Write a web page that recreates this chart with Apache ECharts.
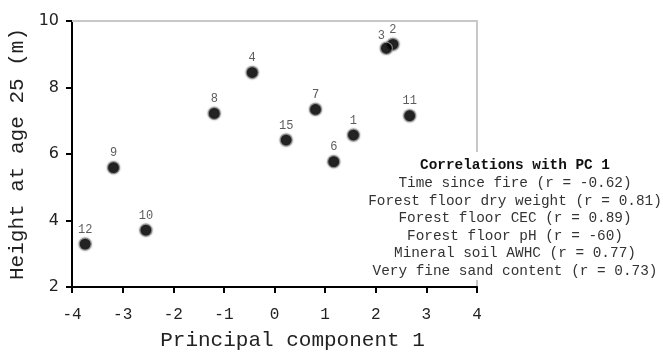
<!DOCTYPE html>
<html><head><meta charset="utf-8">
<script src="https://cdn.jsdelivr.net/npm/echarts@6/dist/echarts.min.js"></script>
<style>html,body{margin:0;padding:0;background:#fff}#c{width:663px;height:352px}</style>
</head><body><div id="c"></div>
<script>
const plotIds = ['1','2','3','4','6','7','8','9','10','11','12','15'];
const pc1Values = [1.56, 2.34, 2.21, -0.44, 1.17, 0.81, -1.19, -3.18, -2.54, 2.67, -3.74, 0.23];
const heightValues = [6.57, 9.30, 9.18, 8.45, 5.77, 7.34, 7.22, 5.59, 3.71, 7.15, 3.29, 6.42];
const xTicks = [-4, -3, -2, -1, 0, 1, 2, 3, 4];
const yTicks = [2, 4, 6, 8, 10];
const corrTitle = 'Correlations with PC 1';
const corrLines = [
  'Time since fire (r = -0.62)',
  'Forest floor dry weight (r = 0.81)',
  'Forest floor CEC (r = 0.89)',
  'Forest floor pH (r = -60)',
  'Mineral soil AWHC (r = 0.77)',
  'Very fine sand content (r = 0.73)'
];

const mono = '"Liberation Mono", "Courier New", monospace';
const chart = echarts.init(document.getElementById('c'), null, {renderer: 'canvas'});

const data = plotIds.map((id, i) => {
  const d = {value: [pc1Values[i], heightValues[i]], name: id};
  if (id === '3') d.label = {offset: [-5, 2]};
  return d;
});

chart.setOption({
  backgroundColor: '#fff',
  animation: false,
  grid: {left: 72, right: 186, top: 21, bottom: 65, containLabel: false, outerBoundsMode: 'none'},
  xAxis: [{
    type: 'value', min: xTicks[0], max: xTicks[xTicks.length - 1], interval: 1,
    axisLine: {show: true, onZero: false, lineStyle: {color: '#000', width: 2}},
    axisTick: {show: true, length: 6, lineStyle: {color: '#000', width: 2}},
    axisLabel: {color: '#222', fontFamily: mono, fontSize: 16, margin: 20},
    splitLine: {show: false},
    name: 'Principal component 1', nameLocation: 'middle', nameGap: 43,
    nameTextStyle: {fontFamily: mono, fontSize: 21, color: '#222', padding: [0, 0, 0, 36]}
  }, {
    type: 'value', position: 'top', min: -4, max: 4,
    axisLine: {show: true, onZero: false, lineStyle: {color: '#c8c8c8', width: 2}},
    axisTick: {show: false}, axisLabel: {show: false}, splitLine: {show: false}
  }],
  yAxis: [{
    type: 'value', min: yTicks[0], max: yTicks[yTicks.length - 1], interval: 2,
    axisLine: {show: true, onZero: false, lineStyle: {color: '#000', width: 2}},
    axisTick: {show: true, length: 6, lineStyle: {color: '#000', width: 2}},
    axisLabel: {color: '#222', fontFamily: '"DejaVu Sans", sans-serif', fontSize: 16, margin: 13},
    splitLine: {show: false},
    name: 'Height at age 25 (m)', nameLocation: 'middle', nameGap: 33, nameRotate: 90,
    nameTextStyle: {fontFamily: mono, fontSize: 21, color: '#222'}
  }, {
    type: 'value', position: 'right', min: 2, max: 10,
    axisLine: {show: true, onZero: false, lineStyle: {color: '#c8c8c8', width: 2}},
    axisTick: {show: false}, axisLabel: {show: false}, splitLine: {show: false}
  }],
  series: [{
    type: 'scatter', xAxisIndex: 0, yAxisIndex: 0,
    symbol: 'circle', symbolSize: 12,
    itemStyle: {color: '#000', borderColor: '#999', borderWidth: 1.2, shadowBlur: 2, shadowColor: 'rgba(0,0,0,0.4)'},
    label: {show: true, position: 'top', distance: 2, formatter: p => p.name,
      fontFamily: mono, fontSize: 12, color: '#333'},
    data: data
  }],
  graphic: [
    {type: 'rect', z: 100, shape: {x: 362, y: 152, width: 300, height: 128}, style: {fill: '#fff'}},
    {type: 'text', z: 101, x: 515, y: 157,
      style: {
        text: '{t|' + corrTitle + '}\n' + corrLines.join('\n'),
        align: 'center', verticalAlign: 'top',
        fontFamily: mono, fontSize: 14.4, lineHeight: 17.5, fill: '#333',
        rich: {t: {fontFamily: mono, fontSize: 14.4, fontWeight: 'bold', fill: '#111', lineHeight: 17.5}}
      }}
  ]
});
</script></body></html>
